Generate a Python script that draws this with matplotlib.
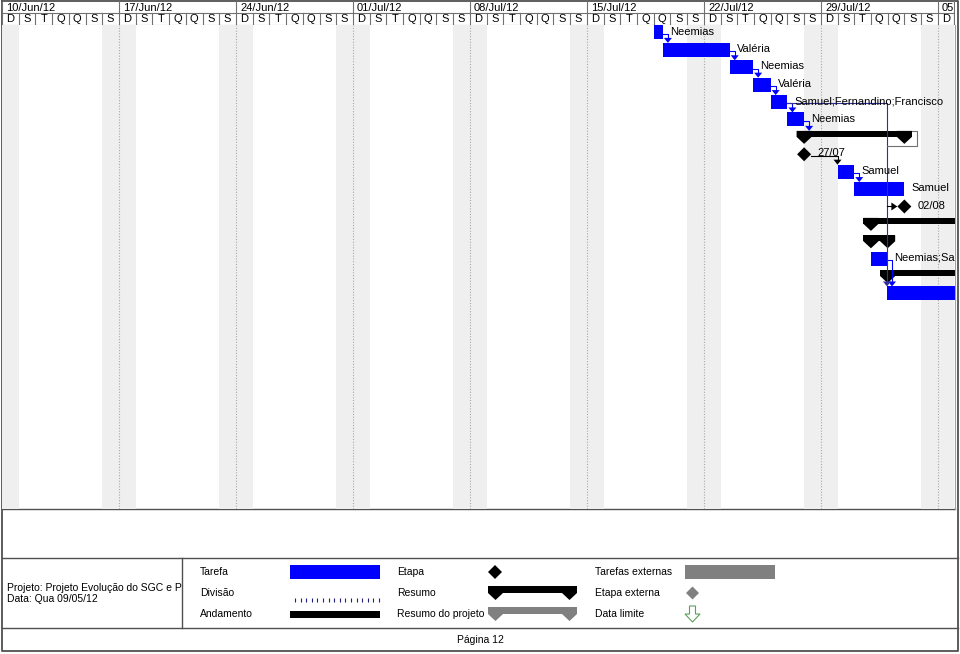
import matplotlib
matplotlib.use('Agg')
import matplotlib.pyplot as plt
from matplotlib.patches import Rectangle, Polygon
import numpy as np

plt.rcParams['font.family'] = ['Liberation Sans', 'DejaVu Sans']
plt.rcParams['font.size'] = 8

# timescale, day 0 = Dom 10/Jun/12
week_labels = ['10/Jun/12', '17/Jun/12', '24/Jun/12', '01/Jul/12', '08/Jul/12',
               '15/Jul/12', '22/Jul/12', '29/Jul/12', '05']
day_letters = ['D', 'S', 'T', 'Q', 'Q', 'S', 'S']
n_days = 57

# tarefas: linha, inicio, fim (dias), recurso
task_rows = [0, 1, 2, 3, 4, 5, 8, 9, 13, 15]
task_start = [39.0, 39.55, 43.55, 44.95, 46.0, 47.0, 50.0, 51.0, 52.0, 52.96]
task_end = [39.55, 43.55, 44.95, 46.0, 47.0, 48.0, 51.0, 54.0, 52.96, 58.0]
task_res = ['Neemias', 'Valéria', 'Neemias', 'Valéria', 'Samuel;Fernandino;Francisco',
            'Neemias', 'Samuel', 'Samuel', 'Neemias;Samuel', '']

# resumos
sum_rows = [6, 11, 12, 14]
sum_start = [47.55, 51.55, 51.55, 52.55]
sum_end = [54.45, 58.0, 53.45, 58.0]

# etapas (marcos)
ms_rows = [7, 10]
ms_day = [48.0, 54.0]
ms_label = ['27/07', '02/08']

# vinculos (de linha, para linha, cor)
links = [(0, 1, 'blue'), (1, 2, 'blue'), (2, 3, 'blue'), (3, 4, 'blue'), (4, 5, 'blue'),
         (5, 6, 'blue'), (7, 8, 'black'), (8, 9, 'blue'), (13, 15, 'blue'), (4, 15, '#3030a0')]

W, H = 960, 654
PX = 1 / 16.71   # dias por pixel
PY = 1 / 17.4    # linhas por pixel

fig = plt.figure(figsize=(9.6, 6.54), dpi=100)
bg = fig.add_axes([0, 0, 1, 1])
bg.set_xlim(0, W)
bg.set_ylim(H, 0)
bg.axis('off')


def fax(x0, y0, x1, y1):
    return fig.add_axes([x0 / W, 1 - y1 / H, (x1 - x0) / W, (y1 - y0) / H])


# ---- cabecalho
hdr = fax(2, 1, 954.5, 25)
hdr.set_xlim(0, n_days)
hdr.set_ylim(2, 0)
hdr.axis('off')
for i, lab in enumerate(week_labels):
    hdr.text(i * 7 + 0.25, 0.55, lab, ha='left', va='center', fontsize=8, clip_on=True)
    hdr.plot([i * 7, i * 7], [0, 1], color='#707070', lw=0.8)
for d in range(n_days + 1):
    hdr.plot([d, d], [1, 2], color='#707070', lw=0.8)
    if d < n_days:
        hdr.text(d + 0.5, 1.52, day_letters[d % 7], ha='center', va='center', fontsize=8)
hdr.plot([0, n_days], [1, 1], color='#707070', lw=0.8)
hdr.plot([0, n_days], [2, 2], color='#707070', lw=0.8)
hdr.plot([n_days, n_days], [0, 2], color='#707070', lw=0.8)

# ---- gantt
ax = fax(2, 25, 954.5, 509)
ax.set_xlim(0, n_days)
ax.set_ylim(484 * PY - 0.43, -0.43)
ax.set_facecolor('none')
for s in ['top', 'left', 'bottom']:
    ax.spines[s].set_visible(False)
ax.spines['right'].set_color('#a0a0a0')
ax.set_xticks([])
ax.set_yticks([])

for d in range(n_days):
    if d % 7 in (0, 6):
        ax.axvspan(d, d + 1, color='#efefef', lw=0, zorder=0)
for d in range(7, n_days, 7):
    ax.axvline(d, color='#a8a8a8', ls=(0, (1, 1.5)), lw=0.8, zorder=0.5)

starts, ends, tops = {}, {}, {}
bh = 14 * PY
for r, s, e, lab in zip(task_rows, task_start, task_end, task_res):
    ax.add_patch(Rectangle((s, r - bh / 2), e - s, bh, color='#0000ff', lw=0, zorder=2))
    if lab:
        ax.text(e + 7 * PX, r - 0.05, lab, ha='left', va='center', fontsize=8, clip_on=True, zorder=4)
    starts[r], ends[r], tops[r] = s, e, bh / 2

tw = 0.9
for r, s, e in zip(sum_rows, sum_start, sum_end):
    top, mid, tip = r - 6 * PY, r, r + 7 * PY
    ax.add_patch(Rectangle((s, top), e - s, mid - top, color='black', lw=0, zorder=2))
    for x0 in (s, e - tw):
        ax.add_patch(Polygon([(x0, top), (x0 + tw, top), (x0 + tw, mid),
                              (x0 + tw / 2, tip), (x0, mid)], closed=True, color='black', lw=0, zorder=2))
    starts[r], ends[r], tops[r] = s, e, 6 * PY

mw, mh = 7 * PX, 7 * PY
for r, d, lab in zip(ms_rows, ms_day, ms_label):
    ax.add_patch(Polygon([(d - mw, r), (d, r - mh), (d + mw, r), (d, r + mh)],
                         closed=True, color='black', lw=0, zorder=3))
    ax.text(d + 13 * PX, r - 0.05, lab, ha='left', va='center', fontsize=8, zorder=4)
    starts[r], ends[r], tops[r] = d - mw, d + mw, mh

aw, ah = 4 * PX, 5 * PY
for r0, r1, c in links:
    x0 = ends[r0]
    xa = max(x0 + 0.3, starts[r1])
    yt = r1 - tops[r1]
    ax.plot([x0, xa, xa], [r0 + 0.08, r0 + 0.08, yt - ah], color=c, lw=0.8, zorder=3)
    ax.add_patch(Polygon([(xa - aw, yt - ah), (xa + aw, yt - ah), (xa, yt)],
                         closed=True, color=c, lw=0, zorder=3))

# ramo do vinculo ate a etapa 02/08
xv = ends[13]
xm = starts[10]
ax.plot([xv, xm - ah * 17.4 / 16.71], [10, 10], color='black', lw=0.8, zorder=3)
ax.add_patch(Polygon([(xm - 6 * PX, 10 - 4 * PY), (xm - 6 * PX, 10 + 4 * PY), (xm, 10)],
                     closed=True, color='black', lw=0, zorder=3))

# conector cinza do resumo
ax.plot([ends[6], ends[6] + 5 * PX, ends[6] + 5 * PX, xv],
        [6 - 6 * PY, 6 - 6 * PY, 6 + 9 * PY, 6 + 9 * PY], color='#707070', lw=0.8, zorder=3)

# ---- moldura e legenda (pixels da pagina)
fc = '#505050'
bg.plot([2, 958, 958, 2, 2], [1, 1, 651, 651, 1], color=fc, lw=1.3)
bg.plot([2, 955], [509, 509], color=fc, lw=1)
bg.plot([2, 958], [558, 558], color=fc, lw=1)
bg.plot([2, 958], [628, 628], color=fc, lw=1)
bg.plot([182, 182], [558, 628], color=fc, lw=1)

bg.text(7, 588, 'Projeto: Projeto Evolução do SGC e P', ha='left', va='center', fontsize=7.5)
bg.text(7, 599, 'Data: Qua 09/05/12', ha='left', va='center', fontsize=7.5)

ly = [572, 593, 614]
for t, y in zip(['Tarefa', 'Divisão', 'Andamento'], ly):
    bg.text(200, y, t, ha='left', va='center', fontsize=7.5)
for t, y in zip(['Etapa', 'Resumo', 'Resumo do projeto'], ly):
    bg.text(397, y, t, ha='left', va='center', fontsize=7.5)
for t, y in zip(['Tarefas externas', 'Etapa externa', 'Data limite'], ly):
    bg.text(595, y, t, ha='left', va='center', fontsize=7.5)

bg.add_patch(Rectangle((290, 565), 90, 14, color='#0000ff', lw=0))
bg.vlines(np.arange(295, 381, 5.6), 597.5, 601.5, color='#202080', lw=0.8)
bg.add_patch(Rectangle((290, 611), 90, 7, color='black', lw=0))

bg.add_patch(Polygon([(488, 572), (495, 565), (502, 572), (495, 579)], closed=True, color='black', lw=0))
for col, y0 in (('black', 586), ('#808080', 607)):
    bg.add_patch(Rectangle((488, y0), 89, 7, color=col, lw=0))
    for x0 in (488, 562):
        bg.add_patch(Polygon([(x0, y0), (x0 + 15, y0), (x0 + 15, y0 + 7), (x0 + 7.5, y0 + 14), (x0, y0 + 7)],
                             closed=True, color=col, lw=0))

bg.add_patch(Rectangle((685, 565), 90, 14, color='#808080', lw=0))
bg.add_patch(Polygon([(686, 593), (692.5, 586.5), (699, 593), (692.5, 599.5)], closed=True, color='#808080', lw=0))
bg.add_patch(Polygon([(689.5, 606), (695.5, 606), (695.5, 614), (700, 614), (692.5, 622), (685, 614), (689.5, 614)],
                     closed=True, facecolor='white', edgecolor='#5aa05a', lw=0.8))

bg.text(480, 640, 'Página 12', ha='center', va='center', fontsize=7.5)

fig.savefig('out.png', dpi=100)
